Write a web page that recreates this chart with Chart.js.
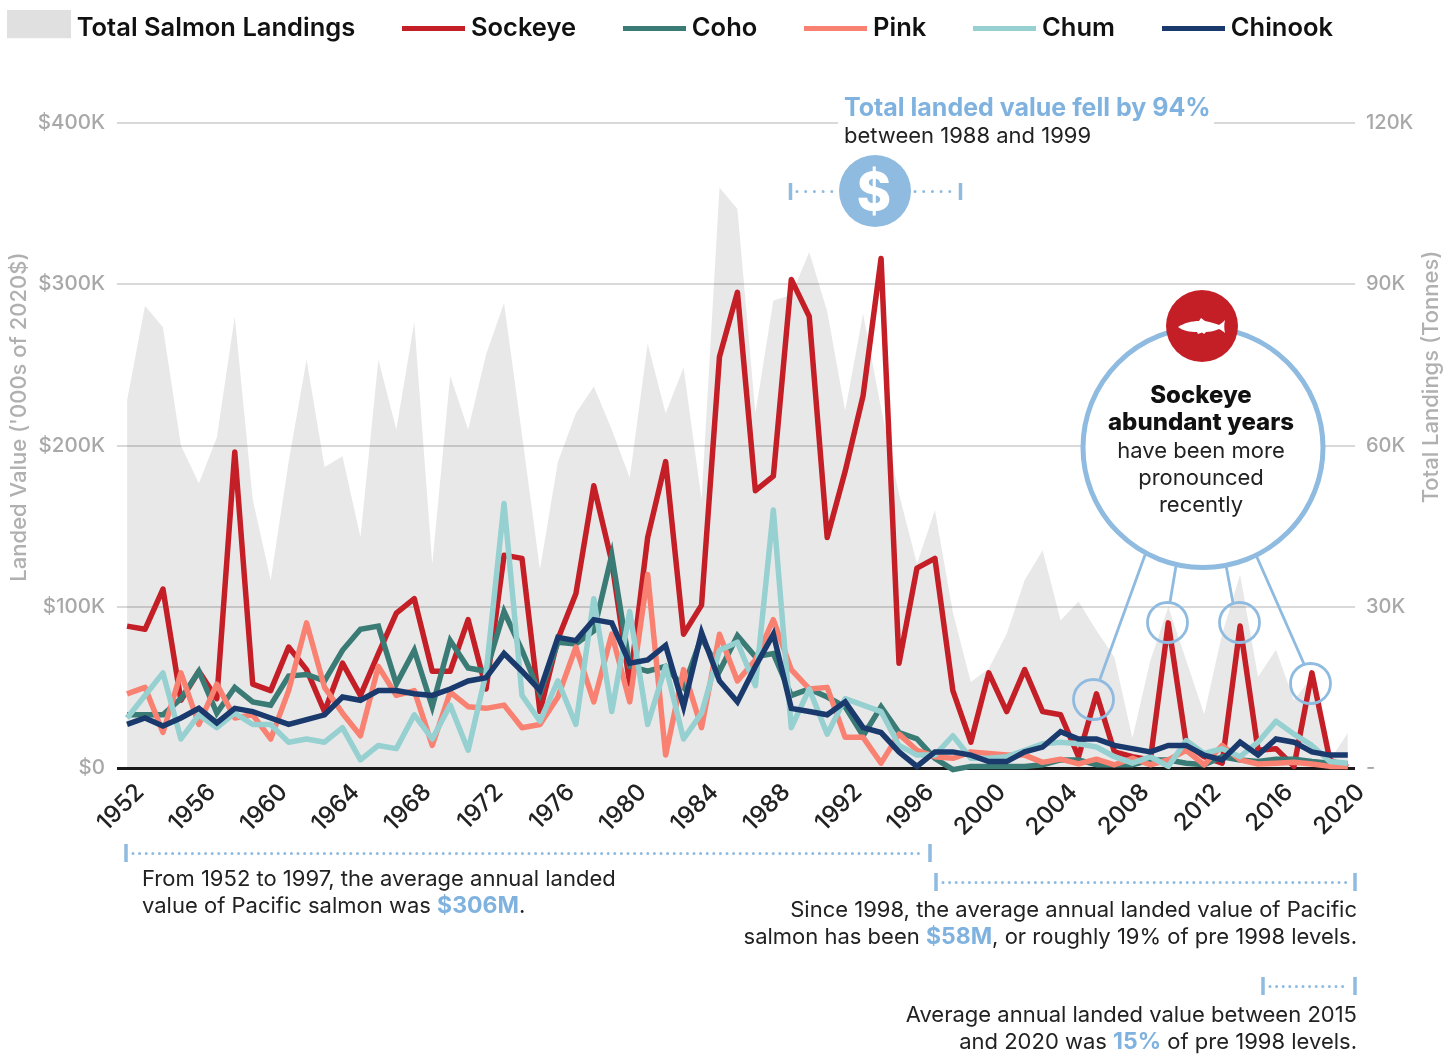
<!DOCTYPE html>
<html lang="en">
<head>
<meta charset="UTF-8">
<title>Pacific salmon landed value</title>
<script src="https://cdn.jsdelivr.net/npm/chart.js"></script>
<style>
    html, body { margin: 0; padding: 0; background: #fff; }
    body { width: 1456px; height: 1056px; position: relative; overflow: hidden; font-family: Inter, sans-serif; color: #222; }
    canvas { position: absolute; left: 0; top: 0; }
    svg { position: absolute; left: 0; top: 0; }
    .note { position: absolute; white-space: nowrap; font-size: 22px; line-height: 27px; }
    .right { text-align: right; right: 99px; }
    .center { text-align: center; width: 240px; left: 1081px; }
    .blue { color: #7fb2df; font-weight: 700; }
    .big { font-size: 23px; line-height: 0; }
    .title-y { position: absolute; white-space: nowrap; color: #b0b0b0; font-size: 22px; font-weight: 500; transform: translate(-50%, -50%) rotate(-90deg); }
</style>
</head>
<body>
<canvas id="chart" width="1456" height="1056"></canvas>

<svg width="1456" height="1056">
    <!-- top bracket -->
    <rect x="838" y="96" width="376" height="52" fill="#fff"/>
    <g stroke="#8fbbe0" fill="none">
        <path d="M790.5 183V200M960.5 183V200" stroke-width="3.5"/>
        <path d="M797 191.5H836M915 191.5H952" stroke-width="3" stroke-linecap="round" stroke-dasharray="0 8.7"/>
        <!-- bottom brackets -->
        <path d="M126 844V862M930 844V862M936 873V891M1355 873V891M1263 977V995M1355 977V995" stroke-width="3.5"/>
        <path d="M133 853.5H924M943 882.5H1349M1270 986.5H1349" stroke-width="3" stroke-linecap="round" stroke-dasharray="0 6.6"/>
        <!-- callouts -->
        <g stroke-width="2.8">
            <path d="M1145 555L1100 679M1177 560L1170 602M1225 560L1233 603M1256 555L1304 664"/>
            <circle cx="1093.5" cy="699.5" r="20"/>
            <circle cx="1167.5" cy="622.5" r="20"/>
            <circle cx="1239.5" cy="622.5" r="20"/>
            <circle cx="1310.5" cy="683.5" r="20"/>
        </g>
        <circle cx="1203" cy="447.5" r="120" fill="#fff" stroke-width="5"/>
    </g>
    <circle cx="875" cy="191" r="36" fill="#8fbbe0"/>
    <circle cx="1202" cy="326" r="36" fill="#c41f27"/>
    <path d="M1178 327C1184 323 1192 321 1199 321L1201 318L1205 321C1211 322 1216 324 1219 325C1222 323 1224 321 1225 320C1224 324 1224 329 1225 333C1223 331 1221 330 1219 329C1215 331 1210 332 1206 332L1204 334L1202 332.5L1198 334L1197 332C1190 332 1183 331 1178 327Z" fill="#fff"/>
</svg>

<div class="note" style="left:874px;top:192px;transform:translate(-50%,-50%);font-size:52px;line-height:52px;font-weight:800;color:#fff;">$</div>

<div class="title-y" style="left:18px;top:417px;">Landed Value ('000s of 2020$)</div>
<div class="title-y" style="left:1430px;top:377px;">Total Landings (Tonnes)</div>

<div class="note" style="left:844px;top:94px;font-size:25px;font-weight:700;"><span class="blue">Total landed value fell by 94%</span></div>
<div class="note" style="left:844px;top:122px;">between 1988 and 1999</div>

<div class="note center" style="top:381px;font-size:24px;font-weight:800;color:#111;">Sockeye<br>abundant years</div>
<div class="note center" style="top:437px;font-size:22px;">have been more<br>pronounced<br>recently</div>

<div class="note" style="left:142px;top:865px;">From 1952 to 1997, the average annual landed<br>value of Pacific salmon was <span class="blue big">$306M</span>.</div>
<div class="note right" style="top:896px;">Since 1998, the average annual landed value of Pacific<br>salmon has been <span class="blue big">$58M</span>, or roughly 19% of pre 1998 levels.</div>
<div class="note right" style="top:1001px;">Average annual landed value between 2015<br>and 2020 was <span class="blue big">15%</span> of pre 1998 levels.</div>

<script>
const years = [];
for (let y = 1952; y <= 2020; y++) years.push(y);
const yearTicks = years.filter(y => (y - 1952) % 4 === 0);

// landed value, $000s of 2020$
const sockeye = [88,86,111,42,60,43,196,52,48,75,61,35,65,45,71,96,105,60,60,92,49,132,130,35,80,108,175,128,52,143,190,83,101,255,295,172,181,303,280,143,184,231,316,65,124,130,48,16,59,35,61,35,33,7,46,10,7,5,90,15,7,3,88,11,12,1,59,5,0.5];
const coho = [33,33,33,43,60,34,50,41,39,57,58,54,73,86,88,52,73,38,79,62,60,97,73,46,78,77,85,132,63,60,63,50,81,60,82,69,71,45,49,44,38,20,38,22,18,6,-1,1,1,1,1,2,5,5,2,2,2,5,5,3,2,7,5,4,5.5,5.5,4,3,2];
const pink = [46,50,22,59,27,52,31,33,18,48,90,50,34,20,63,45,48,14,47,38,37,39,25,27,44,75,41,83,41,120,8,61,25,83,54,67,92,61,49,50,19,19,3,21,11,7,6,10,9,8,8,3.5,5.5,2.5,5.5,2,6,2,5,11,2,14,5,2.5,3,3.5,2.5,1,1];
const chum = [31,45,59,18,33,25,34,27,27,16,18,16,25,5,14,12,33,18,39,11,59,164,45,29,54,27,105,35,97,27,63,18,34,73,78,51,160,25,49,21,43,39,35,14,8,8,20,6,6,7,11,15,16,15,13,7,3,7,1,17,9,12,7,16,29,21,14,4,3];
const chinook = [27,31,26,31,37,28,37,35,31,27,30,33,44,42,48,48,46,45,49,54,56,71,60,48,81,79,92,90,65,67,76,38,84,54,41,63,83,37,35,33,41,25,22,10,1,10,10,8,4,4,10,13,22.5,18,18,14,12,10,14,14,8,5,16,8,18,16,10,8,8];
// total landings, thousand tonnes
const totalLandings = [68.4,86,82,60,53,61.5,84,50,35,57,76,56,58,43,76,63,83,38,73,63,77,86.5,62,37,57,66,71,63,54,79,66,74.5,50,108,104,66,87,88,96,85,66.5,84.5,67,51,38,48,29,16,18.5,25,35,40.5,27.5,31,25.6,20.6,5.6,20,30,20,10,25,36,17,22,12.6,17,1.5,6.5];

const points = vals => vals.map((v, i) => ({ x: years[i], y: v }));

// legend sample: a small canvas used as pointStyle, swatch sits at the top of it
function sample(color, w, h, swatch) {
    const c = document.createElement('canvas');
    c.width = w;
    c.height = h;
    const g = c.getContext('2d');
    g.fillStyle = color;
    g.fillRect(0, 0, w, swatch);
    return c;
}

function line(label, data, color, order, join) {
    return {
        label: label,
        data: points(data),
        borderColor: color,
        backgroundColor: color,
        borderWidth: 5.5,
        borderJoinStyle: join,
        pointRadius: 0,
        tension: 0,
        clip: false,
        order: order,
        pointStyle: sample(color, 63, 5, 5)
    };
}

// legend sits higher and further left than the layout would put it
const moveLegend = {
    id: 'moveLegend',
    afterLayout(chart) {
        chart.legend.top -= 72;
        chart.legend.bottom -= 72;
        chart.legend.left -= 39;
    }
};

new Chart(document.getElementById('chart'), {
    type: 'line',
    plugins: [moveLegend],
    data: {
        datasets: [
            {
                label: 'Total Salmon Landings',
                data: points(totalLandings),
                yAxisID: 'y1',
                fill: 'origin',
                backgroundColor: 'rgba(0,0,0,0.09)',
                borderWidth: 0,
                pointRadius: 0,
                tension: 0,
                order: 6,
                pointStyle: sample('#e0e0e0', 64, 36, 28)
            },
            line('Sockeye', sockeye, '#c41f27', 5, 'round'),
            line('Coho', coho, '#3a7b75', 4, 'miter'),
            line('Pink', pink, '#f98172', 3, 'round'),
            line('Chum', chum, '#96d0d0', 2, 'round'),
            line('Chinook', chinook, '#1a3a6e', 1, 'miter')
        ]
    },
    options: {
        responsive: false,
        animation: false,
        layout: { padding: { top: 34.5, left: 0, right: 0, bottom: 0 } },
        plugins: {
            tooltip: { enabled: false },
            legend: {
                position: 'top',
                align: 'start',
                reverse: true,
                labels: {
                    usePointStyle: true,
                    pointStyleWidth: 50,
                    padding: 53,
                    color: '#111',
                    font: { family: 'Inter', size: 25.5, weight: '600' }
                }
            }
        },
        scales: {
            x: {
                type: 'linear',
                min: 1951.44,
                max: 2020.4,
                afterBuildTicks: axis => { axis.ticks = yearTicks.map(v => ({ value: v })); },
                afterFit: axis => { axis.height = 288; },
                grid: { display: false },
                border: { display: false },
                ticks: {
                    autoSkip: false,
                    minRotation: 45,
                    maxRotation: 45,
                    labelOffset: 13,
                    padding: 2,
                    color: '#222',
                    font: { family: 'Inter', size: 24, weight: '500' },
                    callback: v => String(v)
                }
            },
            y: {
                position: 'left',
                min: 0,
                max: 400,
                afterFit: axis => { axis.width = 117; },
                border: { display: false },
                grid: {
                    drawTicks: false,
                    color: ctx => ctx.tick.value === 0 ? '#1a1a1a' : '#d9d9d9',
                    lineWidth: ctx => ctx.tick.value === 0 ? 3 : 2
                },
                ticks: {
                    stepSize: 100,
                    padding: 12,
                    color: '#a8a8a8',
                    font: { family: 'Inter', size: 20.5, weight: '500' },
                    callback: v => v === 0 ? '$0' : '$' + v + 'K'
                }
            },
            y1: {
                position: 'right',
                min: 0,
                max: 120,
                afterFit: axis => { axis.width = 101; },
                border: { display: false },
                grid: { display: false, drawTicks: false },
                ticks: {
                    stepSize: 30,
                    padding: 11,
                    color: '#a8a8a8',
                    font: { family: 'Inter', size: 20, weight: '500' },
                    callback: v => v === 0 ? '-' : v + 'K'
                }
            }
        }
    }
});
</script>
</body>
</html>
